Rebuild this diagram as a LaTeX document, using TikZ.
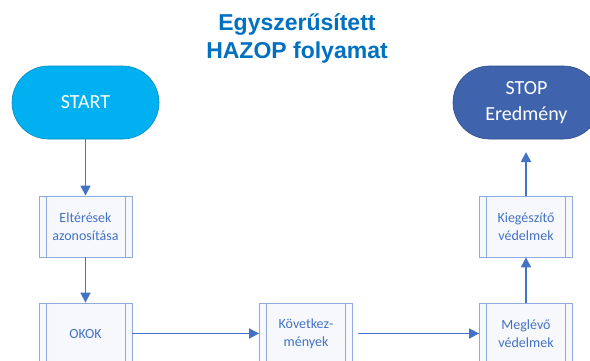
\documentclass[tikz,border=0pt]{standalone}
\usepackage{fontspec}
\setmainfont{Carlito}
\newfontfamily\titlefont{Liberation Sans}
\usetikzlibrary{arrows.meta}
\definecolor{titleblue}{HTML}{0070C0}
\definecolor{startcyan}{HTML}{00B0F0}
\definecolor{stopblue}{HTML}{3F63AD}
\definecolor{arrowblue}{HTML}{4472C4}
\definecolor{boxline}{HTML}{8FAADC}
\definecolor{boxfill}{HTML}{F6F8FC}
\tikzset{
  terminal/.style={draw=#1!80!black, line width=0.6pt, fill=#1, rounded corners=36.5pt,
    minimum width=147pt, minimum height=73pt, text=white, align=center,
    font=\fontsize{20}{26}\selectfont, inner sep=0pt},
  procbox/.style={draw=boxline, line width=0.8pt, fill=boxfill, minimum width=93pt,
    minimum height=61pt, text=arrowblue, align=center, inner sep=0pt,
    font=\fontsize{14}{18}\selectfont},
  flow/.style={draw=arrowblue, line width=1.7pt, -{Triangle[length=10pt,width=10pt]}},
}
\newcommand{\sidebars}[1]{%
  \draw[boxline, line width=0.8pt] ([xshift=7.5pt]#1.north west) -- ([xshift=7.5pt]#1.south west);
  \draw[boxline, line width=0.8pt] ([xshift=-7.5pt]#1.north east) -- ([xshift=-7.5pt]#1.south east);}
\begin{document}
\begin{tikzpicture}[x=1pt,y=1pt]
\clip (0,0) rectangle (590,-360);
\useasboundingbox (0,0) rectangle (590,-360);
\fill[white] (0,0) rectangle (590,-360);
\node[font=\titlefont\bfseries\fontsize{23}{28}\selectfont, text=titleblue, align=center] (title) at (297,-38.5) {Egyszerűsített\\HAZOP folyamat};
\node[terminal=startcyan] (start) at (85.5,-102.5) {START};
\node[terminal=stopblue] (stop) at (526.5,-102.5) {STOP\\Eredmény};
\node[procbox] (elt) at (85.5,-226.5) {Eltérések\\azonosítása};
\node[procbox] (okok) at (85.5,-333.5) {OKOK};
\node[procbox] (kov) at (306,-333.5) {Következ-\\mények};
\node[procbox] (megl) at (526,-333.5) {Meglévő\\védelmek};
\node[procbox] (kieg) at (526,-226.5) {Kiegészítő\\védelmek};
\sidebars{elt}\sidebars{okok}\sidebars{kov}\sidebars{megl}\sidebars{kieg}
\coordinate (stopin) at (526,-152);
\coordinate (kovout) at (358,-333.5);
\draw[flow, line width=1.2pt] (start) -- (elt);
\draw[flow] (elt) -- (okok);
\draw[flow] (okok) -- (kov);
\draw[flow] (kovout) -- (megl);
\draw[flow] (megl) -- (kieg);
\draw[flow] (kieg) -- (stopin);
\end{tikzpicture}
\end{document}
